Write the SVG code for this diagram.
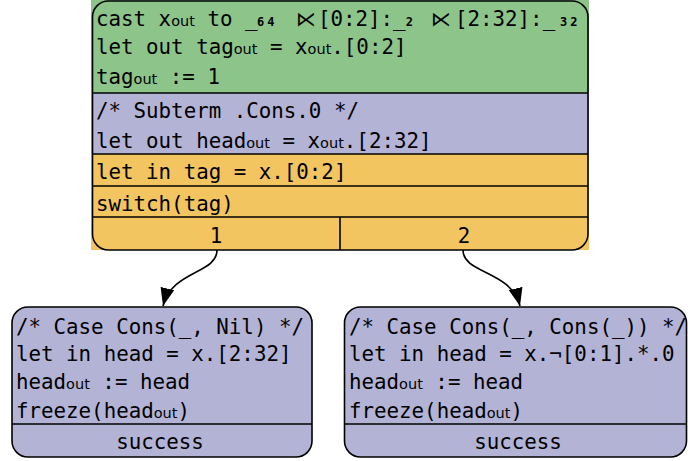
<svg xmlns="http://www.w3.org/2000/svg" width="688" height="461" viewBox="0 0 688 461">
<style>
.m{font-family:"DejaVu Sans Mono","Liberation Mono",monospace;font-size:20.8px;fill:#000}
.s{font-family:"DejaVu Sans","Liberation Sans",sans-serif;font-size:14.5px}
.n{font-family:"DejaVu Sans Mono",monospace;font-size:12px;font-weight:bold;letter-spacing:3px}
.op{font-family:"DejaVu Sans",sans-serif;font-size:20px}
.c{text-anchor:middle}
.bd{fill:none;stroke:#000;stroke-width:1.6}
.ln{stroke:#000;stroke-width:1.6}
.g{fill:#8cc48a}.p{fill:#b3b3d6}.o{fill:#f3c560}
.e{fill:none;stroke:#000;stroke-width:1.6;marker-end:url(#ah)}
</style>
<defs>
<marker id="ah" markerUnits="userSpaceOnUse" markerWidth="18" markerHeight="14" viewBox="0 0 18 14" refX="18" refY="7" orient="auto">
<path d="M0,0 L18,7 L0,14 Z" fill="#000"/>
</marker>
</defs>
<g id="switch-node">
<rect class="g" x="91" y="0" width="498" height="93"/>
<rect class="p" x="91" y="93" width="498" height="61"/>
<rect class="o" x="91" y="154" width="498" height="96"/>
<line class="ln" x1="92.5" y1="93" x2="588" y2="93"/>
<line class="ln" x1="92.5" y1="154" x2="588" y2="154"/>
<line class="ln" x1="92.5" y1="186" x2="588" y2="186"/>
<line class="ln" x1="92.5" y1="217" x2="588" y2="217"/>
<line class="ln" x1="340" y1="217" x2="340" y2="250"/>
<rect class="bd" x="92.5" y="1" width="495.5" height="249" rx="16"/>
<text class="m" x="96" y="26">cast x<tspan class="s">out</tspan> to _<tspan class="n" x="257">64</tspan><tspan class="op" x="296">⋉</tspan><tspan x="318">[0:2]:_</tspan><tspan class="n">2</tspan><tspan class="op" x="431">⋉</tspan><tspan x="455">[2:32]:_</tspan><tspan class="n" x="560">32</tspan></text>
<text class="m" x="96" y="54">let out tag<tspan class="s">out</tspan> = x<tspan class="s">out</tspan>.[0:2]</text>
<text class="m" x="96" y="84">tag<tspan class="s">out</tspan> := 1</text>
<text class="m" x="96" y="118">/* Subterm .Cons.0 */</text>
<text class="m" x="96" y="148">let out head<tspan class="s">out</tspan> = x<tspan class="s">out</tspan>.[2:32]</text>
<text class="m" x="96" y="179">let in tag = x.[0:2]</text>
<text class="m" x="96" y="211">switch(tag)</text>
<text class="m c" x="216" y="243">1</text>
<text class="m c" x="464" y="243">2</text>
</g>
<g id="case-nil">
<rect class="p" x="12" y="307" width="300" height="150" rx="16" stroke="#000" stroke-width="1.6"/>
<line class="ln" x1="12" y1="424" x2="312" y2="424"/>
<text class="m" x="16" y="334">/* Case Cons(_, Nil) */</text>
<text class="m" x="16" y="361">let in head = x.[2:32]</text>
<text class="m" x="16" y="389">head<tspan class="s">out</tspan> := head</text>
<text class="m" x="16" y="418">freeze(head<tspan class="s">out</tspan>)</text>
<text class="m c" x="160" y="449">success</text>
</g>
<g id="case-cons">
<rect class="p" x="344.5" y="307" width="342" height="150" rx="16" stroke="#000" stroke-width="1.6"/>
<line class="ln" x1="344.5" y1="424" x2="686.5" y2="424"/>
<text class="m" x="349" y="334">/* Case Cons(_, Cons(_)) */</text>
<text class="m" x="349" y="361">let in head = x.¬[0:1].*.0</text>
<text class="m" x="349" y="389">head<tspan class="s">out</tspan> := head</text>
<text class="m" x="349" y="418">freeze(head<tspan class="s">out</tspan>)</text>
<text class="m c" x="518" y="449">success</text>
</g>
<g id="edges">
<path class="e" d="M217,250 C217,274 172,270 163,306"/>
<path class="e" d="M463,250 C463,274 511,270 520,306"/>
</g>
</svg>
